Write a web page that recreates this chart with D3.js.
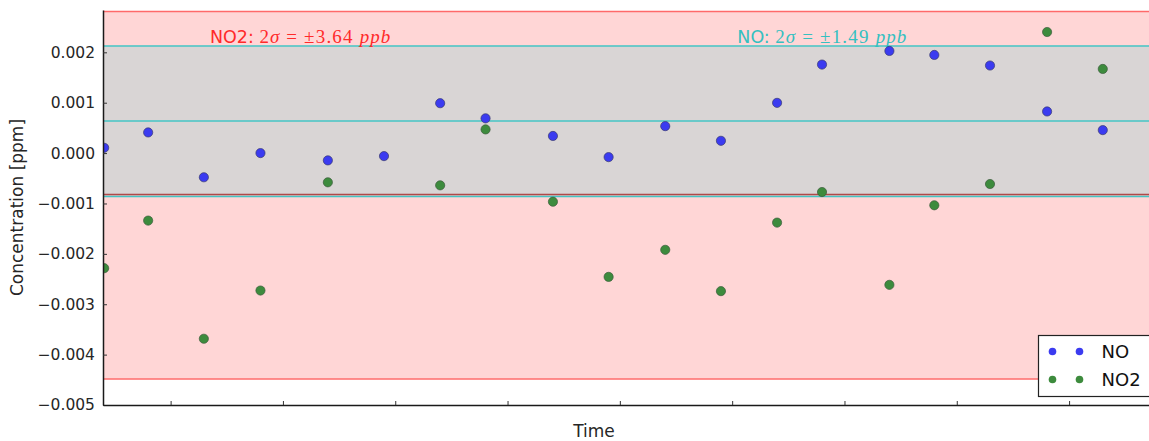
<!DOCTYPE html>
<html>
<head>
<meta charset="utf-8">
<script src="https://cdn.jsdelivr.net/npm/d3@7"></script>
<style>
  html, body { margin: 0; padding: 0; background: #fff; overflow: hidden; }
  svg { display: block; overflow: hidden; }
</style>
</head>
<body>
<svg id="chart" width="1149" height="441"></svg>
<script>
// ---- data (time in hours) ----
const hours = [9.8, 19.2, 31.1, 43.2, 57.6, 69.6, 81.6, 91.3, 105.7, 117.6, 129.7, 141.6, 153.6, 163.2, 177.6, 187.2, 199.1, 211.3, 223.2];
const noValues = [0.000105, 0.00041, -0.00048, 0.0, -0.000145, -0.00006, 0.00099, 0.00069, 0.00034, -0.00008, 0.000535, 0.000244, 0.000997, 0.001757, 0.002027, 0.001948, 0.001738, 0.000826, 0.000456];
const no2Values = [-0.002285, -0.00134, -0.003685, -0.002728, -0.00058, null, -0.00064, 0.00047, -0.000965, -0.002457, -0.00192, -0.00274, -0.00138, -0.000773, -0.002615, -0.001036, -0.000614, 0.002403, 0.00167];
const noMean = 0.00064, noTwoSigma = 0.00149;
const no2Mean = -0.00084, no2TwoSigma = 0.00364;
const yTicks = [-0.005, -0.004, -0.003, -0.002, -0.001, 0.000, 0.001, 0.002];
const xTicks = [24, 48, 72, 96, 120, 144, 168, 192, 216];
const xDomain = [9.55, 235];
const yDomain = [-0.005, 0.00284];
const seriesNames = ["NO", "NO2"];

// ---- layout ----
const svg = d3.select("#chart");
const L = 103, T = 10, R = 1158, B = 405;
const x = d3.scaleLinear().domain(xDomain).range([L, R]);
const y = d3.scaleLinear().domain(yDomain).range([B, T]);

const pink = "#ffd6d6", gray = "#d9d5d5";
const red = "#ff6a6a", cyan = "#45c4c4";
const blue = "#3b3bf0", green = "#3d8b3d";

svg.append("defs").append("clipPath").attr("id", "clip")
  .append("rect").attr("x", L).attr("y", T).attr("width", R - L).attr("height", B - T);
const plot = svg.append("g").attr("clip-path", "url(#clip)");

// bands
plot.append("rect").attr("x", L).attr("width", R - L)
  .attr("y", y(no2Mean + no2TwoSigma)).attr("height", y(no2Mean - no2TwoSigma) - y(no2Mean + no2TwoSigma))
  .attr("fill", pink);
plot.append("rect").attr("x", L).attr("width", R - L)
  .attr("y", y(noMean + noTwoSigma)).attr("height", y(noMean - noTwoSigma) - y(noMean + noTwoSigma))
  .attr("fill", gray);

function hline(v, color, dy) {
  plot.append("line").attr("x1", L).attr("x2", R)
    .attr("y1", Math.round(y(v)) + (dy||0)).attr("y2", Math.round(y(v)) + (dy||0))
    .attr("stroke", color).attr("stroke-width", 1.6);
}
hline(no2Mean + no2TwoSigma, red, -0.5);
hline(no2Mean - no2TwoSigma, red);
hline(noMean + noTwoSigma, cyan);
hline(noMean, cyan);
hline(noMean - noTwoSigma, cyan, 0.5);
hline(no2Mean, "#b04848", -0.5);

// annotations
function annot(xv, yv, color, label, num) {
  const t = plot.append("text").attr("x", x(xv)).attr("y", y(yv)).attr("fill", color);
  t.append("tspan").attr("font-family", "DejaVu Sans, sans-serif").attr("font-size", 17.5).text(label + ": ");
  const serif = "Liberation Serif, serif";
  t.append("tspan").attr("font-family", serif).attr("font-size", 19).attr("letter-spacing", 1).text("2");
  t.append("tspan").attr("font-family", serif).attr("font-size", 19).attr("letter-spacing", 1).attr("font-style", "italic").text("σ");
  t.append("tspan").attr("font-family", serif).attr("font-size", 19).attr("letter-spacing", 1.2).text(" = ±" + num + " ");
  t.append("tspan").attr("font-family", serif).attr("font-size", 19).attr("letter-spacing", 1).attr("font-style", "italic").text("ppb");
}
annot(32.4, 0.00218, "#ff2a2a", "NO2", "3.64");
annot(145.1, 0.00218, "#35c0c0", "NO", "1.49");

// points
const noPts = hours.map((h, i) => ({h, v: noValues[i]})).filter(d => d.v !== null);
const no2Pts = hours.map((h, i) => ({h, v: no2Values[i]})).filter(d => d.v !== null);
plot.selectAll(".no").data(noPts).enter().append("circle")
  .attr("cx", d => x(d.h)).attr("cy", d => y(d.v)).attr("r", 4.6)
  .attr("fill", blue).attr("stroke", "#3a3a70").attr("stroke-width", 0.7);
plot.selectAll(".no2").data(no2Pts).enter().append("circle")
  .attr("cx", d => x(d.h)).attr("cy", d => y(d.v)).attr("r", 4.6)
  .attr("fill", green).attr("stroke", "#3c5c3c").attr("stroke-width", 0.7);

// axes
const yAxis = d3.axisLeft(y).tickValues(yTicks).tickSizeInner(-4).tickSizeOuter(0).tickPadding(8)
  .tickFormat(d => d3.format(".3f")(d).replace("-", "−"));
const gy = svg.append("g").attr("transform", `translate(${L},0)`).call(yAxis);
gy.select(".domain").attr("stroke", "#1a1a1a").attr("stroke-width", 1.5);
gy.selectAll(".tick line").attr("stroke", "#333");
gy.selectAll(".tick text").attr("font-family", "DejaVu Sans, sans-serif").attr("font-size", 15.5).attr("fill", "#262626");

const xAxis = d3.axisBottom(x).tickValues(xTicks).tickSizeInner(-4).tickSizeOuter(0).tickFormat("");
const gx = svg.append("g").attr("transform", `translate(0,${B})`).call(xAxis);
gx.select(".domain").attr("stroke", "#1a1a1a").attr("stroke-width", 1.5);
gx.selectAll(".tick line").attr("stroke", "#333");

// axis labels
svg.append("text").attr("x", 594).attr("y", 437).attr("text-anchor", "middle")
  .attr("font-family", "DejaVu Sans, sans-serif").attr("font-size", 17).attr("fill", "#262626").text("Time");
svg.append("text").attr("transform", `translate(23,${(T + B) / 2}) rotate(-90)`).attr("text-anchor", "middle")
  .attr("font-family", "DejaVu Sans, sans-serif").attr("font-size", 17).attr("fill", "#262626").text("Concentration [ppm]");

// legend
const lg = svg.append("g").attr("transform", `translate(1038.5,335.5)`);
lg.append("rect").attr("width", 120).attr("height", 61).attr("fill", "#fff").attr("stroke", "#222").attr("stroke-width", 1.2);
const colors = [blue, green];
seriesNames.forEach((name, i) => {
  const cy = 16 + i * 28;
  [14, 41].forEach(cx => lg.append("circle").attr("cx", cx).attr("cy", cy).attr("r", 3.8).attr("fill", colors[i]));
  lg.append("text").attr("x", 63).attr("y", cy + 6.5).attr("font-family", "DejaVu Sans, sans-serif")
    .attr("font-size", 18).attr("fill", "#111").text(name);
});
</script>
</body>
</html>
